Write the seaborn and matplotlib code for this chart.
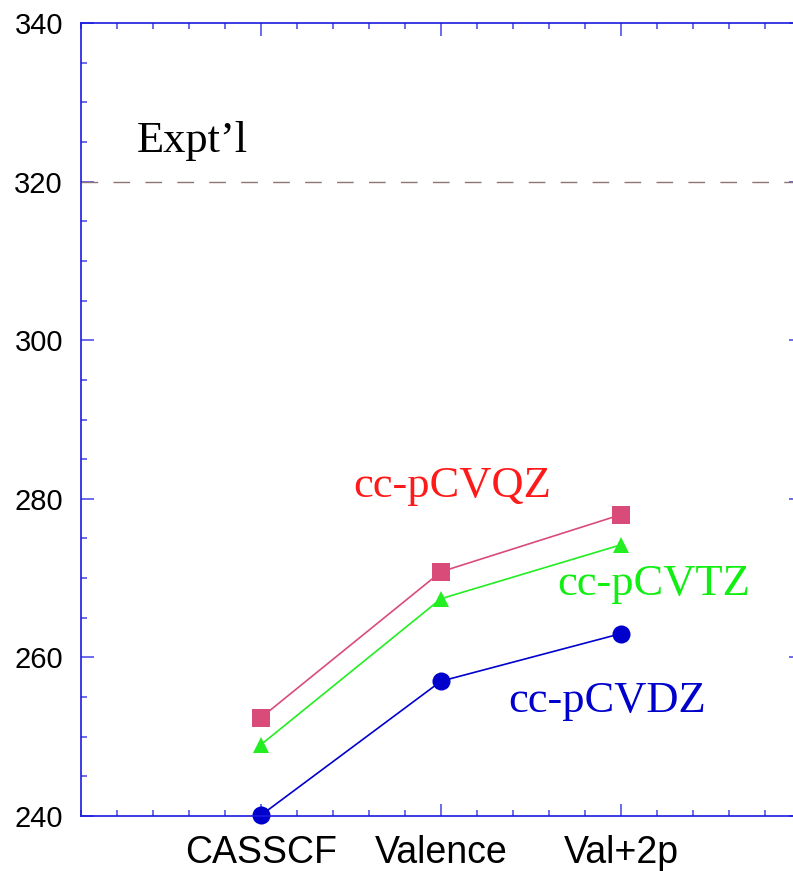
import matplotlib
matplotlib.use("Agg")
import matplotlib.pyplot as plt
import seaborn as sns
import pandas as pd
from matplotlib.ticker import MultipleLocator

categories = ["CASSCF", "Valence", "Val+2p"]
qz = [252.4, 270.8, 278.0]
tz = [249.0, 267.4, 274.2]
dz = [240.1, 257.0, 263.0]
expt = 320.0
series_names = ["cc-pCVQZ", "cc-pCVTZ", "cc-pCVDZ"]

sns.set_theme(style="white")
plt.rcParams["font.family"] = ["Liberation Sans", "DejaVu Sans"]

rows = []
for name, vals in zip(series_names, [qz, tz, dz]):
    for i, (c, v) in enumerate(zip(categories, vals)):
        rows.append({"pos": i, "cat": c, "value": v, "series": name})
df = pd.DataFrame(rows)

line_colors = {"cc-pCVQZ": "#d94c7a", "cc-pCVTZ": "#22ee22", "cc-pCVDZ": "#0000cc"}
markers = {"cc-pCVQZ": "s", "cc-pCVTZ": "^", "cc-pCVDZ": "o"}
text_colors = {"cc-pCVQZ": "#ff1a1a", "cc-pCVTZ": "#11ee11", "cc-pCVDZ": "#0000cc"}

fig = plt.figure(figsize=(7.93, 8.71), dpi=100)
ax = fig.add_axes([81/793, 55/871, 720/793, 793/871])

for name in series_names:
    sub = df[df["series"] == name]
    sns.lineplot(data=sub, x="pos", y="value", ax=ax, color=line_colors[name],
                 marker=markers[name], markersize=13 if name != "cc-pCVTZ" else 12,
                 markeredgewidth=0, linewidth=1.2, clip_on=False, legend=False)

ax.axhline(expt, color="#8f7474", linewidth=1.0, dashes=(12, 11))

ax.set_xlim(-1, 3)
ax.set_ylim(240, 340)
ax.set_xticks(range(len(categories)))
ax.set_xticklabels(categories)
ax.xaxis.set_minor_locator(MultipleLocator(0.2))
ax.set_yticks([240, 260, 280, 300, 320, 340])
ax.yaxis.set_minor_locator(MultipleLocator(5))
ax.set_xlabel("")
ax.set_ylabel("")

spine_color = "#1a1ae0"
for s in ax.spines.values():
    s.set_color(spine_color)
    s.set_linewidth(1.2)
    s.set_visible(True)

ax.tick_params(axis="both", which="both", direction="in", top=True, right=True,
               bottom=True, left=True, color="#6a6aee", width=1.4)
ax.tick_params(axis="both", which="major", length=9)
ax.tick_params(axis="both", which="minor", length=4.5)
ax.tick_params(axis="y", which="major", labelsize=21, pad=13, labelcolor="black")
ax.tick_params(axis="x", which="major", labelsize=27, pad=14, labelcolor="black")

serif = ["Liberation Serif", "DejaVu Serif"]
ax.text(-0.69, 323.7, "Expt\u2019l", fontsize=32, family=serif, color="black", va="baseline")
ax.text(1.061, 280.2, "cc-pCVQZ", fontsize=32, family=serif, color=text_colors["cc-pCVQZ"],
        ha="center", va="baseline")
ax.text(2.183, 267.9, "cc-pCVTZ", fontsize=32, family=serif, color=text_colors["cc-pCVTZ"],
        ha="center", va="baseline")
ax.text(1.922, 253.1, "cc-pCVDZ", fontsize=32, family=serif, color=text_colors["cc-pCVDZ"],
        ha="center", va="baseline")

fig.savefig("out.png", dpi=100)
